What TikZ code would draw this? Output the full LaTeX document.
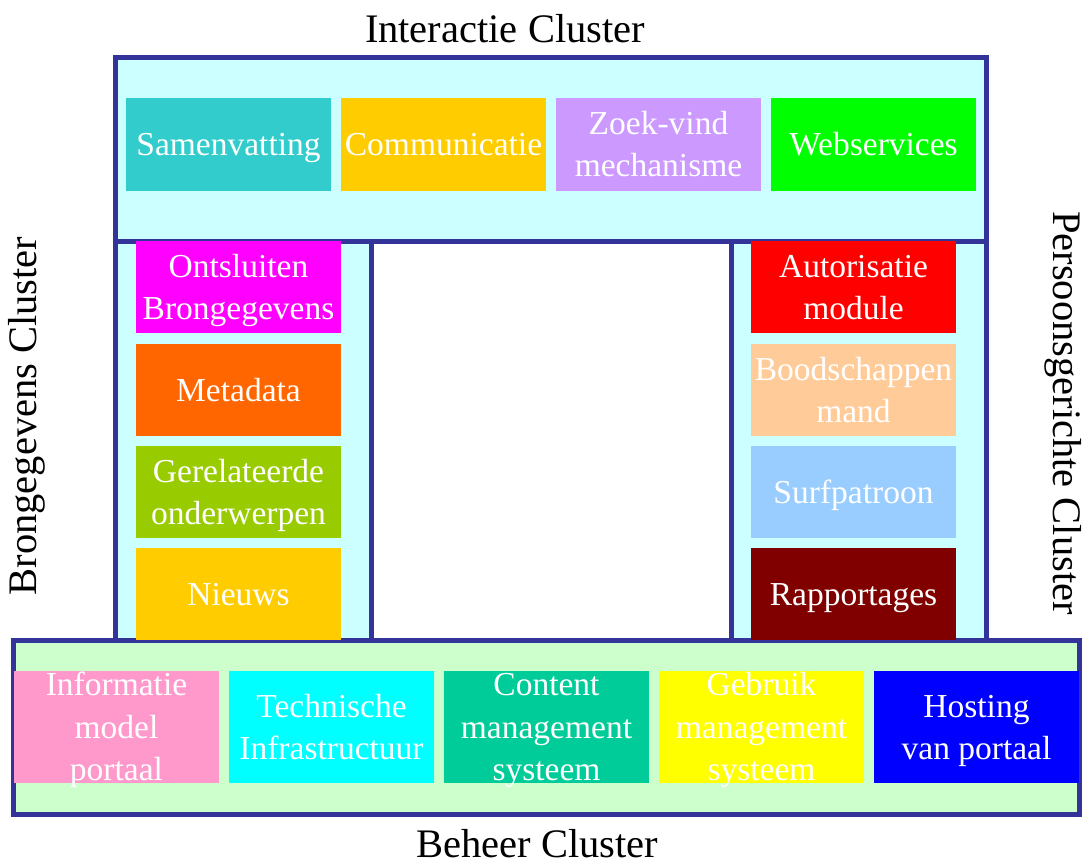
\documentclass[tikz,border=0pt]{standalone}
\usepackage{fontspec}
\setmainfont{Liberation Serif}
\definecolor{frame}{HTML}{333399}
\definecolor{lcyan}{HTML}{CCFFFF}
\definecolor{lgreen}{HTML}{CCFFCC}
\newcommand\lst{\rule[-9.4pt]{0pt}{41.4pt}}
\tikzset{
  cluster/.style={draw=frame, line width=5pt},
  box/.style={draw=none, inner sep=0pt, outer sep=0pt},
  topbox/.style={box, minimum width=205pt, minimum height=93pt},
  colbox/.style={box, minimum width=205pt, minimum height=92pt},
  botbox/.style={box, minimum width=205pt, minimum height=112pt},
  txt/.style={text=white, inner sep=0pt, align=center, font=\fontsize{33.5}{40.5}\selectfont},
  title/.style={text=black, inner sep=0pt, font=\fontsize{40.5}{48}\selectfont}
}
\begin{document}
\begin{tikzpicture}[x=1pt,y=-1pt]
\useasboundingbox (0,0) rectangle (1082,861);
% clusters
\path[cluster, fill=lcyan] (115.5,57.5) rectangle (986.5,241.5);
\path[cluster, fill=lcyan] (115.5,241.5) rectangle (371.5,640.5);
\path[cluster, fill=lcyan] (731.5,241.5) rectangle (986.5,640.5);
\path[cluster, fill=lgreen] (13.5,640.5) rectangle (1079.5,814.5);
% titles
\node[title, anchor=base] (tInter) at (505,43) {Interactie Cluster};
\node[title, anchor=base] (tBeheer) at (537.5,857.5) {Beheer Cluster};
\node[title, rotate=90] (tBron) at (27,416) {Brongegevens Cluster};
\node[title, rotate=-90] (tPers) at (1063.5,413) {Persoonsgerichte Cluster};
% top row
\node[topbox, fill={rgb,255:red,51;green,204;blue,204}] (samen) at (228.5,144.5) {};
\node[txt] (samenT) at (samen.center) {\lst Samenvatting};
\node[topbox, fill={rgb,255:red,255;green,204;blue,0}] (comm) at (443.5,144.5) {};
\node[txt] (commT) at (comm.center) {\lst Communicatie};
\node[topbox, fill={rgb,255:red,204;green,153;blue,255}] (zoek) at (658.5,144.5) {};
\node[txt] (zoekT) at (zoek.center) {\lst Zoek-vind\\\lst mechanisme};
\node[topbox, fill={rgb,255:red,0;green,255;blue,0}] (web) at (873.5,144.5) {};
\node[txt] (webT) at (web.center) {\lst Webservices};
% left column
\node[colbox, fill={rgb,255:red,255;green,0;blue,255}] (ont) at (238.5,287) {};
\node[txt] (ontT) at (ont.center) {\lst Ontsluiten\\\lst Brongegevens};
\node[colbox, fill={rgb,255:red,255;green,102;blue,0}] (meta) at (238.5,390) {};
\node[txt] (metaT) at (meta.center) {\lst Metadata};
\node[colbox, fill={rgb,255:red,153;green,204;blue,0}] (gerel) at (238.5,492) {};
\node[txt] (gerelT) at (gerel.center) {\lst Gerelateerde\\\lst onderwerpen};
\node[colbox, fill={rgb,255:red,255;green,204;blue,0}] (nieuws) at (238.5,594) {};
\node[txt] (nieuwsT) at (nieuws.center) {\lst Nieuws};
% right column
\node[colbox, fill={rgb,255:red,255;green,0;blue,0}] (auto) at (853.5,287) {};
\node[txt] (autoT) at (auto.center) {\lst Autorisatie\\\lst module};
\node[colbox, fill={rgb,255:red,255;green,204;blue,153}] (bood) at (853.5,390) {};
\node[txt] (boodT) at (bood.center) {\lst Boodschappen\\\lst mand};
\node[colbox, fill={rgb,255:red,153;green,204;blue,255}] (surf) at (853.5,492) {};
\node[txt] (surfT) at (surf.center) {\lst Surfpatroon};
\node[colbox, fill={rgb,255:red,128;green,0;blue,0}] (rapp) at (853.5,594) {};
\node[txt] (rappT) at (rapp.center) {\lst Rapportages};
% bottom row
\node[botbox, fill={rgb,255:red,255;green,153;blue,204}] (info) at (116.5,727) {};
\node[txt] (infoT) at (info.center) {\lst Informatie\\\lst model\\\lst portaal};
\node[botbox, fill={rgb,255:red,0;green,255;blue,255}] (tech) at (331.5,727) {};
\node[txt] (techT) at (tech.center) {\lst Technische\\\lst Infrastructuur};
\node[botbox, fill={rgb,255:red,0;green,204;blue,153}] (cms) at (546.5,727) {};
\node[txt] (cmsT) at (cms.center) {\lst Content\\\lst management\\\lst systeem};
\node[botbox, fill={rgb,255:red,255;green,255;blue,0}] (gms) at (761.5,727) {};
\node[txt] (gmsT) at (gms.center) {\lst Gebruik\\\lst management\\\lst systeem};
\node[botbox, fill={rgb,255:red,0;green,0;blue,255}] (host) at (976.5,727) {};
\node[txt] (hostT) at (host.center) {\lst Hosting\\\lst van portaal};
\end{tikzpicture}
\end{document}
